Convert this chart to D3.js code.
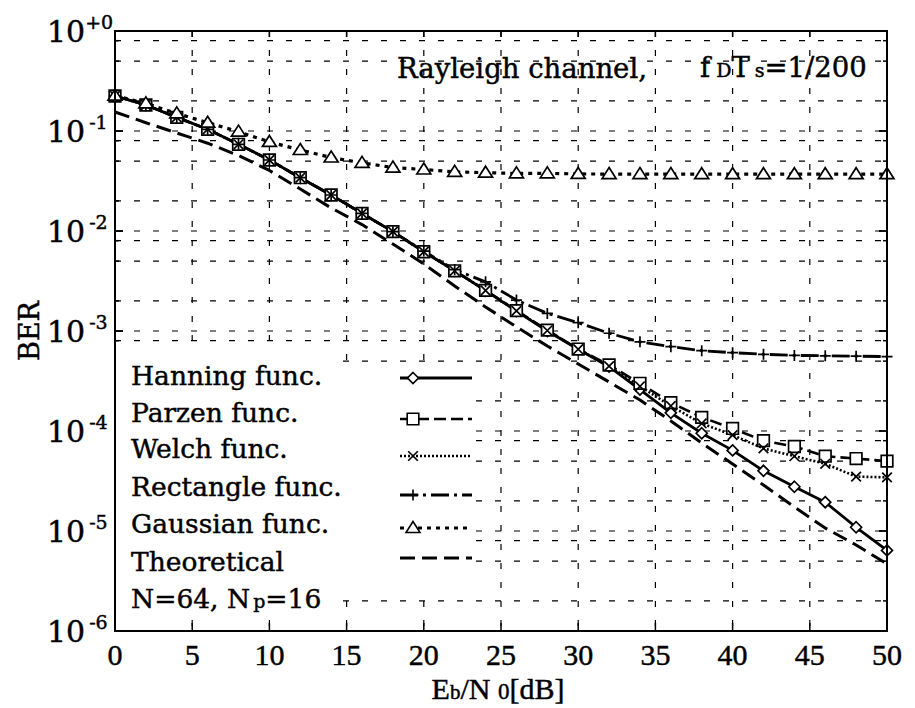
<!DOCTYPE html>
<html><head><meta charset="utf-8">
<script src="https://cdn.jsdelivr.net/npm/d3@7"></script>
<style>html,body{margin:0;padding:0;background:#fff;} text{stroke:#000;stroke-width:0.45px;fill:#000;}</style>
</head><body>
<svg id="chart" width="915" height="708"></svg>
<script>
// ---- data ----
const snr = [0,2,4,6,8,10,12,14,16,18,20,22,24,26,28,30,32,34,36,38,40,42,44,46,48,50];
const hanning = [0.224,0.182,0.137,0.104,0.0736,0.0513,0.0341,0.0229,0.0150,0.00985,0.0062,0.0040,0.00253,0.00158,0.0010,6.56e-4,4.4e-4,2.6e-4,1.52e-4,9.5e-5,6.4e-5,4.0e-5,2.77e-5,1.94e-5,1.09e-5,6.4e-6];
const parzen = [0.224,0.182,0.137,0.104,0.0736,0.0513,0.0341,0.0229,0.0150,0.00985,0.0062,0.0040,0.00255,0.0016,0.00102,6.6e-4,4.57e-4,3.0e-4,1.92e-4,1.37e-4,1.06e-4,8.0e-5,7.0e-5,5.6e-5,5.3e-5,5.0e-5];
const welch = [0.224,0.182,0.137,0.104,0.0736,0.0513,0.0341,0.0229,0.0150,0.00985,0.0062,0.0040,0.00254,0.00159,0.00101,6.58e-4,4.45e-4,2.8e-4,1.78e-4,1.19e-4,9.1e-5,6.7e-5,5.6e-5,4.7e-5,3.5e-5,3.44e-5];
const rectangle = [0.224,0.182,0.137,0.104,0.0736,0.0513,0.0341,0.0229,0.0150,0.00985,0.0063,0.0041,0.0031,0.00204,0.0015,0.00121,9.5e-4,7.8e-4,6.97e-4,6.36e-4,6.07e-4,5.85e-4,5.7e-4,5.65e-4,5.6e-4,5.55e-4];
const gaussian = [0.226,0.189,0.150,0.121,0.0985,0.0777,0.0646,0.0543,0.0480,0.0431,0.0412,0.0390,0.0383,0.0377,0.0377,0.0372,0.0371,0.0371,0.0371,0.0370,0.0370,0.0370,0.0370,0.0370,0.0370,0.0370];
const theoretical = [0.155,0.121,0.0955,0.0755,0.0569,0.0403,0.0263,0.0170,0.0116,0.00741,0.00468,0.00282,0.00174,0.0011,7.08e-4,4.68e-4,3.09e-4,2.04e-4,1.26e-4,7.59e-5,4.68e-5,2.88e-5,1.74e-5,1.07e-5,7.24e-6,4.68e-6];
const xTicks = [0,5,10,15,20,25,30,35,40,45,50];
const yExponents = [0,-1,-2,-3,-4,-5,-6];
const legendNames = ["Hanning func.","Parzen func.","Welch func.","Rectangle func.","Gaussian func.","Theoretical"];

// ---- setup ----
const svg = d3.select("#chart");
const X0=115, X1=887, Y0=31, Y1=631;
const x = d3.scaleLinear().domain([0,50]).range([X0,X1]);
const y = d3.scaleLog().domain([1e-6,1]).range([Y1,Y0]);

const serif = "'DejaVu Serif', serif";
const times = "'Liberation Serif', serif";

// grid
const gridVals = [];
for (let k=-6;k<0;k++) [1,2,5,8].forEach(m=>{const v=m*Math.pow(10,k); if(v>1e-6 && v<1) gridVals.push(v);});
const g = svg.append("g");
g.selectAll("line.h").data(gridVals).join("line")
  .attr("x1",X0).attr("x2",X1).attr("y1",d=>y(d)).attr("y2",d=>y(d))
  .attr("stroke","#000").attr("stroke-width",1.2).attr("stroke-dasharray","6,13");
g.selectAll("line.v").data(xTicks.filter(d=>d>0&&d<50)).join("line")
  .attr("x1",d=>x(d)).attr("x2",d=>x(d)).attr("y1",Y0).attr("y2",Y1)
  .attr("stroke","#000").attr("stroke-width",1.2).attr("stroke-dasharray","6,13");

// ticks (inward)
const tk = svg.append("g").attr("stroke","#000").attr("stroke-width",1.5);
gridVals.concat(yExponents.map(e=>Math.pow(10,e))).forEach(v=>{
  const major = yExponents.some(e=>Math.abs(Math.log10(v)-e)<1e-9);
  const L = major?8:4;
  tk.append("line").attr("x1",X0).attr("x2",X0+L).attr("y1",y(v)).attr("y2",y(v));
  tk.append("line").attr("x1",X1).attr("x2",X1-L).attr("y1",y(v)).attr("y2",y(v));
});
xTicks.forEach(t=>{
  tk.append("line").attr("x1",x(t)).attr("x2",x(t)).attr("y1",Y1).attr("y2",Y1-8);
  tk.append("line").attr("x1",x(t)).attr("x2",x(t)).attr("y1",Y0).attr("y2",Y0+6);
});

// legend white background (covers grid)
svg.append("rect").attr("x",X0+1).attr("y",352).attr("width",218).attr("height",264).attr("fill","#fff");
svg.append("rect").attr("x",X0+1).attr("y",364).attr("width",358).attr("height",226).attr("fill","#fff");

// series
const series = [
  {name:"Theoretical", data:theoretical, dash:"15,7", w:3, marker:null},
  {name:"Gaussian", data:gaussian, dash:"4,5", w:3.2, marker:"tri"},
  {name:"Rectangle", data:rectangle, dash:"18,5,3,5", w:2.8, marker:"plus"},
  {name:"Welch", data:welch, dash:"2,2", w:2.6, marker:"x"},
  {name:"Parzen", data:parzen, dash:"12,5", w:2.6, marker:"sq"},
  {name:"Hanning", data:hanning, dash:null, w:2.8, marker:"dia"}
];
function markerPath(type){
  switch(type){
    case "dia": {const s=5.5; return `M0,${-s}L${s},0L0,${s}L${-s},0Z`;}
    case "sq": {const s=5.8; return `M${-s},${-s}H${s}V${s}H${-s}Z`;}
    case "x": {const s=4.8; return `M${-s},${-s}L${s},${s}M${-s},${s}L${s},${-s}`;}
    case "plus": {const s=5.5; return `M${-s},0H${s}M0,${-s}V${s}`;}
    case "tri": {return `M0,-6.5L7,4.5L-7,4.5Z`;}
  }
  return "";
}
const line = d3.line().x((d,i)=>x(snr[i])).y(d=>y(d));
series.forEach(s=>{
  svg.append("path").attr("d",line(s.data)).attr("fill","none").attr("stroke","#000")
    .attr("stroke-width",s.w).attr("stroke-dasharray",s.dash).attr("stroke-linejoin","round");
});
series.slice().reverse().forEach(s=>{
  if(!s.marker) return;
  svg.append("g").selectAll("path").data(s.data).join("path")
    .attr("transform",(d,i)=>`translate(${x(snr[i])},${y(d)})`)
    .attr("d",markerPath(s.marker))
    .attr("fill",(s.marker==="x"||s.marker==="plus")?"none":"#fff")
    .attr("stroke","#000").attr("stroke-width",1.7);
});

// frame
svg.append("rect").attr("x",X0).attr("y",Y0).attr("width",X1-X0).attr("height",Y1-Y0)
  .attr("fill","none").attr("stroke","#000").attr("stroke-width",2);

// legend
const legRows = [
  {name:legendNames[0], ty:385, ly:378, s:series[5]},
  {name:legendNames[1], ty:422, ly:419, s:series[4]},
  {name:legendNames[2], ty:458, ly:456, s:series[3]},
  {name:legendNames[3], ty:496, ly:495, s:series[2]},
  {name:legendNames[4], ty:533, ly:528, s:series[1]},
  {name:legendNames[5], ty:571, ly:558, s:series[0]}
];
legRows.forEach(r=>{
  svg.append("text").attr("x",131).attr("y",r.ty).attr("font-family",serif).attr("font-size",26.5).text(r.name);
  svg.append("path").attr("d",`M400,${r.ly}H472`).attr("stroke","#000").attr("stroke-width",r.s.w)
    .attr("stroke-dasharray",r.s.dash).attr("fill","none");
  if(r.s.marker){
    svg.append("path").attr("transform",`translate(413,${r.ly})`).attr("d",markerPath(r.s.marker))
      .attr("fill",(r.s.marker==="x"||r.s.marker==="plus")?"none":"#fff").attr("stroke","#000").attr("stroke-width",1.6);
  }
});
const np = svg.append("text").attr("x",131).attr("y",608).attr("font-family",serif).attr("font-size",26.5);
np.append("tspan").text("N=64, N");
np.append("tspan").attr("font-size",19).attr("dx",3).text("p");
np.append("tspan").text("=16");

// annotation
svg.append("text").attr("x",397).attr("y",78).attr("font-family",serif).attr("font-size",27.5).text("Rayleigh channel,");
const fd = svg.append("text").attr("x",700).attr("y",77).attr("font-family",serif).attr("font-size",27.5);
fd.append("tspan").text("f");
fd.append("tspan").attr("font-size",19).attr("dx",6).text("D");
fd.append("tspan").text("T");
fd.append("tspan").attr("font-size",19).attr("dx",5).text("s");
fd.append("tspan").text("=1/200");

// y tick labels
yExponents.forEach(e=>{
  const t = svg.append("text").attr("x",47).attr("y",y(Math.pow(10,e))+11).attr("font-family",serif).attr("font-size",30);
  t.append("tspan").text("10");
  t.append("tspan").attr("font-size",19).attr("dy",-13).attr("dx",e===0?0:4).text(e===0?"+0":String(e));
});
// x tick labels
svg.append("g").selectAll("text").data(xTicks).join("text")
  .attr("x",d=>x(d)).attr("y",665).attr("text-anchor","middle")
  .attr("font-family",times).attr("font-size",30).text(d=>d);

// axis titles
svg.append("text").attr("transform","translate(39,331) rotate(-90)").attr("text-anchor","middle")
  .attr("font-family",serif).attr("font-size",27).text("BER");
const xl = svg.append("text").attr("x",498).attr("y",699).attr("text-anchor","middle").attr("font-family",times).attr("font-size",30);
xl.append("tspan").text("E");
xl.append("tspan").attr("font-size",21).text("b");
xl.append("tspan").text("/N ");
xl.append("tspan").attr("font-size",23).text("0");
xl.append("tspan").text("[dB]");
</script>
</body></html>
